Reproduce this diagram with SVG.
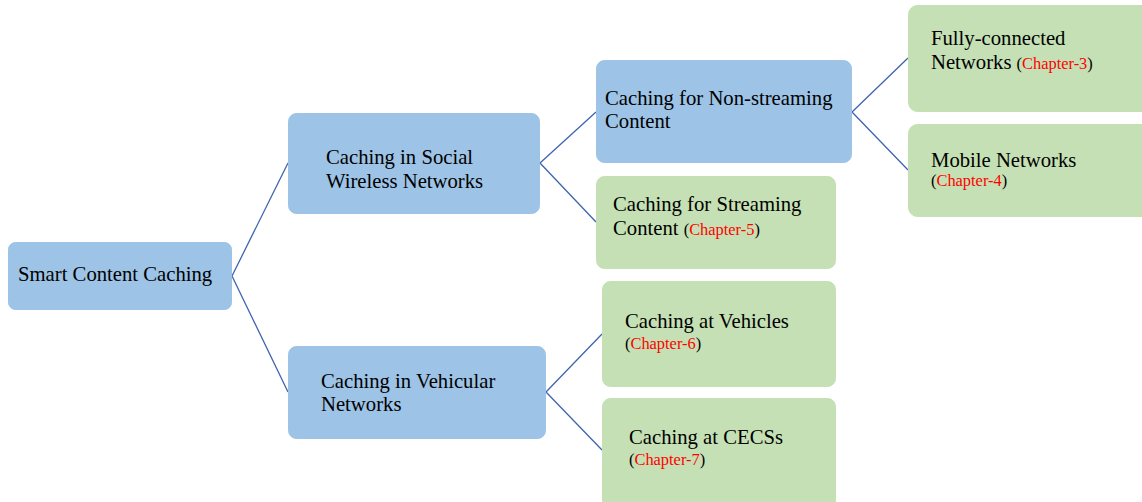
<svg xmlns="http://www.w3.org/2000/svg" width="1142" height="502" viewBox="0 0 1142 502">
<style>
.b{fill:#9DC3E6;stroke:#9DC3E6;stroke-width:1}
.g{fill:#C5E0B4;stroke:#C5E0B4;stroke-width:1}
text{font-family:"Liberation Serif","Times New Roman",serif;font-size:20.7px;fill:#000}
.c{font-size:16.4px}
.r{fill:#FF0000}
.ln{stroke:#3F64B0;stroke-width:1.3;fill:none}
</style>
<rect width="1142" height="502" fill="#fff"/>
<g id="connectors">
<path class="ln" d="M232,276 L288,163 M232,276 L288,392"/>
<path class="ln" d="M540,163 L596,112 M540,163 L596,222"/>
<path class="ln" d="M852,112 L908,58 M852,112 L908,170"/>
<path class="ln" d="M546,392 L602,334 M546,392 L602,450"/>
</g>
<g id="root">
<rect class="b" x="8.5" y="242.5" width="223" height="67" rx="7"/>
<text x="18" y="281">Smart Content Caching</text>
</g>
<g id="social">
<rect class="b" x="288.5" y="113.5" width="251" height="100" rx="8"/>
<text x="326" y="164">Caching in Social</text>
<text x="326" y="188">Wireless Networks</text>
</g>
<g id="vehicular">
<rect class="b" x="288.5" y="346.5" width="257" height="92" rx="8"/>
<text x="321" y="388">Caching in Vehicular</text>
<text x="321" y="411">Networks</text>
</g>
<g id="nonstreaming">
<rect class="b" x="596.5" y="60.5" width="255" height="102" rx="8"/>
<text x="605" y="105">Caching for Non-streaming</text>
<text x="605" y="128">Content</text>
</g>
<g id="streaming">
<rect class="g" x="596.5" y="176.5" width="239" height="92" rx="8"/>
<text x="613" y="211">Caching for Streaming</text>
<text x="613" y="235">Content <tspan class="c">(<tspan class="r">Chapter-5</tspan>)</tspan></text>
</g>
<g id="fully">
<rect class="g" x="908.5" y="5.5" width="245" height="106" rx="9"/>
<text x="931" y="45">Fully-connected</text>
<text x="931" y="69">Networks <tspan class="c">(<tspan class="r">Chapter-3</tspan>)</tspan></text>
</g>
<g id="mobile">
<rect class="g" x="908.5" y="124.5" width="245" height="92" rx="9"/>
<text x="931" y="167">Mobile Networks</text>
<text class="c" x="931" y="186">(<tspan class="r">Chapter-4</tspan>)</text>
</g>
<g id="vehicles">
<rect class="g" x="602.5" y="281.5" width="233" height="105" rx="8"/>
<text x="625" y="328">Caching at Vehicles</text>
<text class="c" x="625" y="349">(<tspan class="r">Chapter-6</tspan>)</text>
</g>
<g id="cecs">
<rect class="g" x="602.5" y="398.5" width="233" height="110" rx="8"/>
<text x="629" y="444">Caching at CECSs</text>
<text class="c" x="629" y="465">(<tspan class="r">Chapter-7</tspan>)</text>
</g>
</svg>
